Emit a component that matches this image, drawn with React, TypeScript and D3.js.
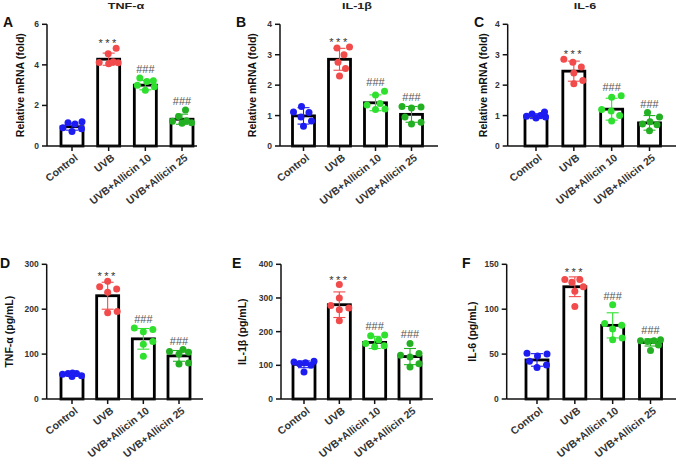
import React from "react";
import * as d3 from "d3";

const GROUPS = ["Control", "UVB", "UVB+Allicin 10", "UVB+Allicin 25"];
const GROUP_COLORS = ["#1d1df2", "#f24b4b", "#2fe02f", "#23b023"];
const SIG_MARKS = ["", "***", "###", "###"];

// Panel A: TNF-α mRNA
const A_MEANS = [0.95, 4.28, 3.0, 1.32];
const A_SDS = [0.17, 0.3, 0.23, 0.25];
const A_POINTS = [
  [0.72, 1.08, 1.2, 1.15, 0.9, 0.85],
  [4.82, 4.55, 4.1, 4.05, 4.12, 4.15],
  [3.18, 3.35, 2.75, 3.0, 2.92, 3.22],
  [1.78, 1.45, 1.15, 1.12, 1.22, 1.25],
];
// Panel B: IL-1β mRNA
const B_MEANS = [0.99, 2.85, 1.42, 1.04];
const B_SDS = [0.27, 0.36, 0.26, 0.26];
const B_POINTS = [
  [1.3, 1.1, 1.12, 0.65, 0.95, 0.82],
  [3.25, 3.22, 3.0, 2.55, 2.3, 2.75],
  [1.8, 1.68, 1.22, 1.35, 1.2, 1.4],
  [1.3, 1.28, 0.72, 0.95, 0.78, 1.25],
];
// Panel C: IL-6 mRNA
const C_MEANS = [0.98, 2.46, 1.21, 0.76];
const C_SDS = [0.08, 0.33, 0.36, 0.24];
const C_POINTS = [
  [0.95, 1.05, 1.12, 0.92, 0.98, 1.0],
  [2.75, 2.85, 2.6, 2.4, 2.05, 2.15],
  [1.6, 1.65, 1.15, 1.0, 0.82, 1.2],
  [1.1, 0.95, 0.8, 0.72, 0.5, 0.7],
];
// Panel D: TNF-α protein
const D_MEANS = [54, 230, 134, 96];
const D_SDS = [3, 30, 23, 12];
const D_POINTS = [
  [57, 58, 55, 50, 52, 57],
  [262, 250, 245, 238, 192, 195],
  [155, 150, 128, 122, 95, 158],
  [110, 106, 104, 80, 78, 100],
];
// Panel E: IL-1β protein
const E_MEANS = [103, 280, 168, 126];
const E_SDS = [10, 38, 18, 24];
const E_POINTS = [
  [110, 112, 108, 80, 105, 100],
  [340, 300, 278, 265, 232, 270],
  [190, 188, 155, 175, 165, 158],
  [165, 135, 125, 95, 130, 105],
];
// Panel F: IL-6 protein
const F_MEANS = [43.5, 125, 82, 63];
const F_SDS = [7, 11, 14, 4];
const F_POINTS = [
  [50, 51, 48, 42, 35, 38],
  [133, 133, 130, 125, 120, 103],
  [105, 84, 82, 78, 68, 66],
  [66, 65, 65, 64, 60, 54],
];

const PANEL_LETTERS = ["A", "B", "C", "D", "E", "F"];
const PANEL_TITLES = ["TNF-α", "IL-1β", "IL-6", "", "", ""];
const Y_LABELS = [
  "Relative mRNA (fold)",
  "Relative mRNA (fold)",
  "Relative mRNA (fold)",
  "TNF-α (pg/mL)",
  "IL-1β (pg/mL)",
  "IL-6 (pg/mL)",
];
const Y_MAXES = [6, 4, 4, 300, 400, 150];
const Y_TICKS = [
  [0, 2, 4, 6],
  [0, 1, 2, 3, 4],
  [0, 1, 2, 3, 4],
  [0, 100, 200, 300],
  [0, 100, 200, 300, 400],
  [0, 50, 100, 150],
];

const DATA = [
  { means: A_MEANS, sds: A_SDS, points: A_POINTS },
  { means: B_MEANS, sds: B_SDS, points: B_POINTS },
  { means: C_MEANS, sds: C_SDS, points: C_POINTS },
  { means: D_MEANS, sds: D_SDS, points: D_POINTS },
  { means: E_MEANS, sds: E_SDS, points: E_POINTS },
  { means: F_MEANS, sds: F_SDS, points: F_POINTS },
];

// layout (styling only)
const LAYOUT = [
  { axisX: 47, yTop: 24.3, yBase: 146, c0: 72, c1: 182, axisEnd: 197, labelX: 20, letterX: 3, letterY: 27, titleX: 126 },
  { axisX: 280, yTop: 24.3, yBase: 146, c0: 303.5, c1: 411.5, axisEnd: 438, labelX: 252, letterX: 236, letterY: 27, titleX: 357 },
  { axisX: 507.7, yTop: 24.3, yBase: 146, c0: 536, c1: 649.5, axisEnd: 676, labelX: 483, letterX: 474, letterY: 27, titleX: 585 },
  { axisX: 46.7, yTop: 264.3, yBase: 399, c0: 72, c1: 179, axisEnd: 203, labelX: 9, letterX: 0, letterY: 268, titleX: 0 },
  { axisX: 281, yTop: 264.3, yBase: 399, c0: 304, c1: 410, axisEnd: 433, labelX: 242, letterX: 232, letterY: 268, titleX: 0 },
  { axisX: 506.7, yTop: 264.3, yBase: 399, c0: 537, c1: 650.5, axisEnd: 676, labelX: 472, letterX: 462, letterY: 268, titleX: 0 },
];

const FONT = "'Liberation Sans', Arial, Helvetica, sans-serif";
const R = 3.5;
const BAR_W = 22;
const SPREAD = 10;

function swarm(vals: number[], y: (v: number) => number): { v: number; dx: number }[] {
  const order = vals.map((v, i) => ({ v, i })).sort((a, b) => a.v - b.v);
  const placed: { x: number; y: number }[] = [];
  const out: { v: number; dx: number }[] = [];
  const minD = 2 * R * 1.35;
  const cands: number[] = [0];
  for (let k = 1; k <= SPREAD * 2; k++) cands.push(k * 0.5, -k * 0.5);
  for (const o of order) {
    const py = y(o.v);
    let chosen = 0;
    let bestScore = -Infinity;
    for (const c of cands) {
      const d = placed.length ? Math.min(...placed.map((p) => Math.hypot(p.x - c, p.y - py))) : Infinity;
      if (d >= minD) {
        chosen = c;
        bestScore = Infinity;
        break;
      }
      if (d > bestScore) {
        bestScore = d;
        chosen = c;
      }
    }
    placed.push({ x: chosen, y: py });
    out.push({ v: o.v, dx: chosen });
  }
  return out;
}

function Panel({ idx }: { idx: number }) {
  const L = LAYOUT[idx];
  const D = DATA[idx];
  const y = d3.scaleLinear().domain([0, Y_MAXES[idx]]).range([L.yBase, L.yTop]);
  const x = d3.scalePoint<string>().domain(GROUPS).range([L.c0, L.c1]);
  const labelMidY = (L.yBase + L.yTop) / 2;
  return (
    <g>
      <text x={L.letterX} y={L.letterY} fontFamily={FONT} fontWeight="bold" fontSize={14} fill="#111">
        {PANEL_LETTERS[idx]}
      </text>
      {PANEL_TITLES[idx] && (
        <text
          transform={`translate(${L.titleX},9) scale(1.4,1)`}
          textAnchor="middle"
          fontFamily={FONT}
          fontWeight="bold"
          fontSize={9}
          fill="#222"
        >
          {PANEL_TITLES[idx]}
        </text>
      )}
      <text
        transform={`translate(${L.labelX},${labelMidY}) rotate(-90)`}
        textAnchor="middle"
        dominantBaseline="central"
        fontFamily={FONT}
        fontWeight="bold"
        fontSize={10.5}
        fill="#111"
      >
        {Y_LABELS[idx]}
      </text>
      {GROUPS.map((g, i) => (
        <rect
          key={g}
          x={(x(g) as number) - BAR_W / 2}
          y={y(D.means[i])}
          width={BAR_W}
          height={L.yBase - y(D.means[i])}
          fill="#fff"
          stroke="#000"
          strokeWidth={2.8}
        />
      ))}
      {GROUPS.map((g, i) =>
        swarm(D.points[i], y).map((p, j) => (
          <circle key={g + j} cx={(x(g) as number) + p.dx} cy={y(p.v)} r={R} fill={GROUP_COLORS[i]} />
        ))
      )}
      {GROUPS.map((g, i) => {
        const cx = x(g) as number;
        const top = y(D.means[i] + D.sds[i]);
        const bot = y(D.means[i] - D.sds[i]);
        return (
          <g key={g} stroke={GROUP_COLORS[i]} strokeWidth={1.1}>
            <line x1={cx} x2={cx} y1={top} y2={bot} />
            <line x1={cx - 6} x2={cx + 6} y1={top} y2={top} />
            <line x1={cx - 6} x2={cx + 6} y1={bot} y2={bot} />
          </g>
        );
      })}
      {GROUPS.map((g, i) => {
        if (!SIG_MARKS[i]) return null;
        const maxV = Math.max(d3.max(D.points[i]) as number, D.means[i] + D.sds[i]);
        const isStar = SIG_MARKS[i] === "***";
        return (
          <text
            key={g}
            x={x(g) as number}
            y={y(maxV) - (isStar ? 1 : 5)}
            textAnchor="middle"
            fontFamily={FONT}
            fontSize={11}
            letterSpacing={isStar ? 2.5 : 0}
            fill={isStar ? "#333" : "#555"}
          >
            {SIG_MARKS[i]}
          </text>
        );
      })}
      <line x1={L.axisX} x2={L.axisX} y1={L.yTop} y2={L.yBase} stroke="#111" strokeWidth={1.5} />
      {Y_TICKS[idx].map((t) => (
        <g key={t}>
          <line x1={L.axisX - 5} x2={L.axisX} y1={y(t)} y2={y(t)} stroke="#111" strokeWidth={1.5} />
          <text
            x={L.axisX - 8}
            y={y(t)}
            textAnchor="end"
            dominantBaseline="central"
            fontFamily={FONT}
            fontWeight="bold"
            fontSize={8.5}
            fill="#333"
          >
            {t}
          </text>
        </g>
      ))}
      <line x1={L.axisX} x2={L.axisEnd} y1={L.yBase} y2={L.yBase} stroke="#111" strokeWidth={1.5} />
      {GROUPS.map((g) => (
        <g key={g}>
          <line x1={x(g) as number} x2={x(g) as number} y1={L.yBase} y2={L.yBase + 5} stroke="#111" strokeWidth={1.5} />
          <text
            transform={`translate(${(x(g) as number) + 4},${L.yBase + 10}) rotate(-38)`}
            textAnchor="end"
            dominantBaseline="central"
            fontFamily={FONT}
            fontWeight="bold"
            fontSize={10.5}
            fill="#333"
          >
            {g}
          </text>
        </g>
      ))}
    </g>
  );
}

export default function App() {
  return (
    <svg
      width={677}
      height={460}
      style={{ position: "absolute", left: 0, top: 0, display: "block", background: "#fff" }}
    >
      <rect width={677} height={460} fill="#fff" />
      {LAYOUT.map((_, i) => (
        <Panel key={i} idx={i} />
      ))}
    </svg>
  );
}
